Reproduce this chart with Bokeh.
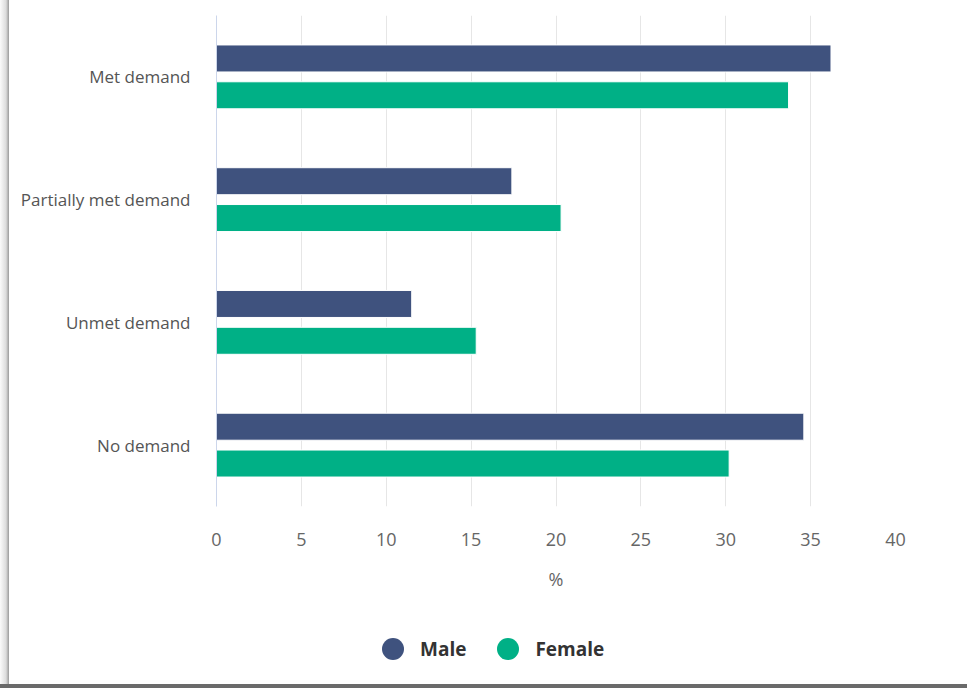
from bokeh.plotting import figure
from bokeh.models import Range1d, FactorRange, ColumnDataSource, Legend, LegendItem, FixedTicker
from bokeh.transform import dodge
from bokeh.layouts import column
from bokeh.embed import file_html
from bokeh.resources import INLINE

categories = ["Met demand", "Partially met demand", "Unmet demand", "No demand"]
male = [36.2, 17.4, 11.5, 34.6]
female = [33.7, 20.3, 15.3, 30.2]
x_ticks = [0, 5, 10, 15, 20, 25, 30, 35, 40]
series_names = ["Male", "Female"]
colors = ["#3f527e", "#00b086"]

src = ColumnDataSource(dict(cat=categories, male=male, female=female))

p = figure(
    width=958, height=616,
    y_range=FactorRange(factors=list(reversed(categories))),
    x_range=Range1d(0, 40),
    output_backend="svg", toolbar_location=None,
    min_border_left=207, min_border_right=72, min_border_top=15, min_border_bottom=110,
)
p.margin = (0, 0, 0, 9)
p.outline_line_color = None
p.background_fill_color = "white"
p.border_fill_color = "white"

p.hbar(y=dodge("cat", 0.15, range=p.y_range), right="male", left=0, height=0.22,
       source=src, fill_color=colors[0], line_color="white", line_width=1)
p.hbar(y=dodge("cat", -0.15, range=p.y_range), right="female", left=0, height=0.22,
       source=src, fill_color=colors[1], line_color="white", line_width=1)

xa = p.xaxis[0]
xa.ticker = FixedTicker(ticks=x_ticks)
xa.axis_line_color = None
xa.major_tick_line_color = None
xa.minor_tick_line_color = None
xa.major_label_standoff = 20
xa.major_label_text_font = "Open Sans"
xa.major_label_text_font_size = "18px"
xa.major_label_text_color = "#666666"
xa.axis_label = "%"
xa.axis_label_text_font = "Open Sans"
xa.axis_label_text_font_size = "18px"
xa.axis_label_text_font_style = "normal"
xa.axis_label_text_color = "#666666"
xa.axis_label_standoff = 18

ya = p.yaxis[0]
ya.axis_line_color = "#ccd6eb"
ya.major_tick_line_color = None
ya.minor_tick_line_color = None
ya.major_label_standoff = 20
ya.major_label_text_font = "Open Sans"
ya.major_label_text_font_size = "17px"
ya.major_label_text_color = "#555555"

p.xgrid.grid_line_color = "#e6e6e6"
p.ygrid.grid_line_color = None

# legend strip as its own figure
q = figure(width=958, height=68, x_range=Range1d(0, 1), y_range=Range1d(0, 1),
           output_backend="svg", toolbar_location=None,
           min_border=0, x_axis_location=None, y_axis_location=None)
q.margin = (0, 0, 4, 9)
q.outline_line_color = None
q.grid.grid_line_color = None
q.border_fill_color = "white"
nan = float("nan")
lm = q.scatter(x=[nan], y=[nan], marker="circle", size=22, fill_color=colors[0], line_color=None)
lf = q.scatter(x=[nan], y=[nan], marker="circle", size=22, fill_color=colors[1], line_color=None)
legend = Legend(
    items=[LegendItem(label=series_names[0], renderers=[lm]),
           LegendItem(label=series_names[1], renderers=[lf])],
    orientation="horizontal", location=(149, 8),
    border_line_color=None, background_fill_alpha=0,
    label_text_font="Open Sans", label_text_font_style="bold",
    label_text_font_size="19px", label_text_color="#333333",
    glyph_width=55, glyph_height=55, spacing=14, label_standoff=-11,
    margin=0, padding=0,
)
q.add_layout(legend, "center")

bg = ("linear-gradient(#6a6a6a, #6a6a6a) left bottom / 100% 4px no-repeat, "
      "linear-gradient(to right, #fbfbfb 0px, #dcdcdc 6px, #9a9a9a 9px) left top / 9px 100% no-repeat, "
      "white")
layout = column(p, q, width=967, height=688, spacing=0, styles={"background": bg})

open("out.html", "w").write(file_html(layout, INLINE))
